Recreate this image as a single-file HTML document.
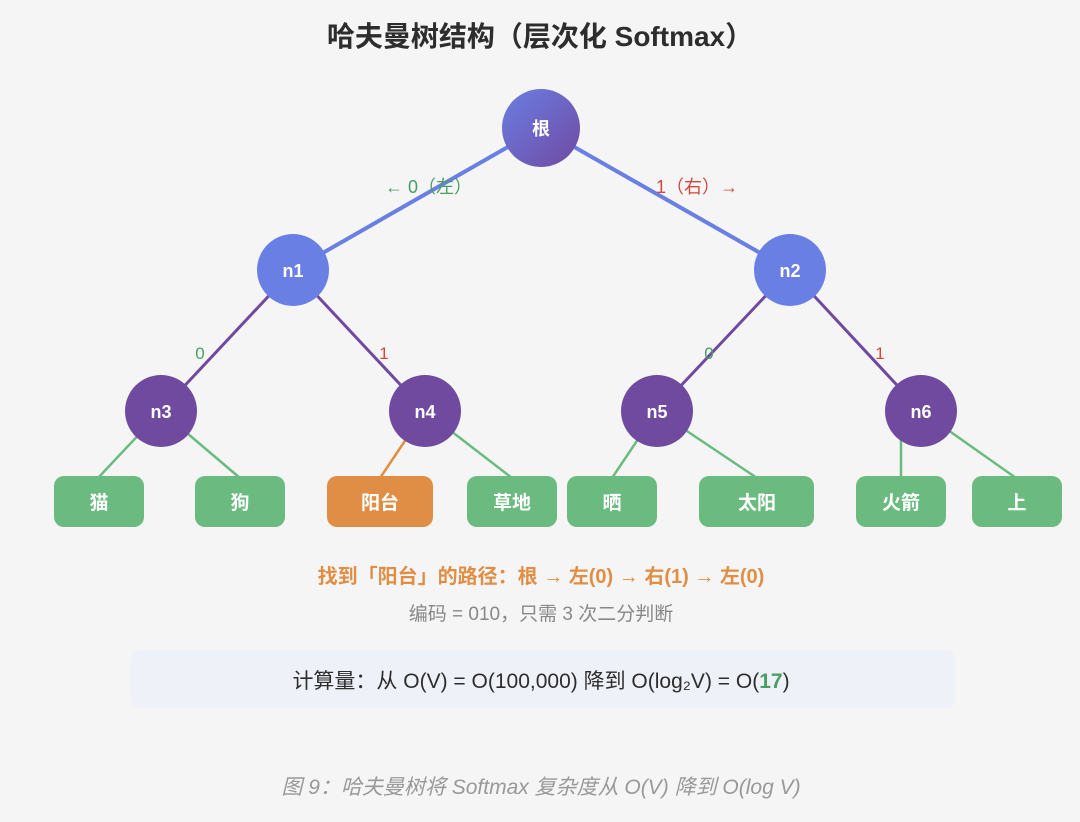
<!DOCTYPE html>
<html><head><meta charset="utf-8"><style>
html,body{margin:0;padding:0;background:#f5f5f5;}
svg{display:block;font-family:"Liberation Sans","Noto Sans CJK SC",sans-serif;}
</style></head><body>
<svg width="1080" height="822" viewBox="0 0 1080 822" xmlns="http://www.w3.org/2000/svg">
<defs>
<linearGradient id="rg" x1="0" y1="0" x2="1" y2="1">
<stop offset="0" stop-color="#6a7fe3"/><stop offset="1" stop-color="#7049a2"/>
</linearGradient>
</defs>
<rect width="1080" height="822" fill="#f5f5f5"/>
<text x="540" y="46" text-anchor="middle" font-size="28" font-weight="bold" fill="#2d2d2d">哈夫曼树结构（层次化 Softmax）</text>

<g stroke-width="4" stroke="#6a7fe3" stroke-linecap="round">
<line x1="541" y1="128" x2="293" y2="270"/>
<line x1="541" y1="128" x2="790" y2="270"/>
</g>
<g stroke-width="3" stroke="#6f4a9e">
<line x1="293" y1="270" x2="161" y2="411"/>
<line x1="293" y1="270" x2="425" y2="411"/>
<line x1="790" y1="270" x2="657" y2="411"/>
<line x1="790" y1="270" x2="921" y2="411"/>
</g>
<g stroke-width="2.5" stroke="#6bbb80">
<line x1="161" y1="411" x2="98" y2="478"/>
<line x1="161" y1="411" x2="240" y2="478"/>
<line x1="425" y1="411" x2="512" y2="478"/>
<line x1="657" y1="411" x2="612" y2="478"/>
<line x1="657" y1="411" x2="757" y2="478"/>
<line x1="901" y1="420" x2="901" y2="478"/>
<line x1="921" y1="411" x2="1016" y2="478"/>
</g>
<line x1="425" y1="411" x2="380" y2="478" stroke="#e08e45" stroke-width="2.5"/>

<g font-size="18">
<text x="385" y="193" fill="#4a9e63">← 0（左）</text>
<text x="656" y="193" fill="#d1483c">1（右）→</text>
</g>
<g font-size="17">
<text x="200" y="359" text-anchor="middle" fill="#4a9e63">0</text>
<text x="384" y="359" text-anchor="middle" fill="#d1483c">1</text>
<text x="709" y="359" text-anchor="middle" fill="#4a9e63">0</text>
<text x="880" y="359" text-anchor="middle" fill="#d1483c">1</text>
</g>

<circle cx="541" cy="128" r="39" fill="url(#rg)"/>
<circle cx="293" cy="270" r="36" fill="#6a7fe3"/>
<circle cx="790" cy="270" r="36" fill="#6a7fe3"/>
<g fill="#6f4a9e">
<circle cx="161" cy="411" r="36"/><circle cx="425" cy="411" r="36"/>
<circle cx="657" cy="411" r="36"/><circle cx="921" cy="411" r="36"/>
</g>
<g fill="#fff" font-size="18" font-weight="bold" text-anchor="middle">
<text x="541" y="135">根</text>
<text x="293" y="277">n1</text><text x="790" y="277">n2</text>
<text x="161" y="418">n3</text><text x="425" y="418">n4</text>
<text x="657" y="418">n5</text><text x="921" y="418">n6</text>
</g>

<g fill="#6bbb80">
<rect x="54" y="476" width="90" height="51" rx="10"/>
<rect x="195" y="476" width="90" height="51" rx="10"/>
<rect x="467" y="476" width="90" height="51" rx="10"/>
<rect x="567" y="476" width="90" height="51" rx="10"/>
<rect x="699" y="476" width="115" height="51" rx="10"/>
<rect x="856" y="476" width="90" height="51" rx="10"/>
<rect x="972" y="476" width="90" height="51" rx="10"/>
</g>
<rect x="327" y="476" width="106" height="51" rx="10" fill="#e08e45"/>
<g fill="#fff" font-size="19" font-weight="bold" text-anchor="middle">
<text x="99" y="509">猫</text><text x="240" y="509">狗</text>
<text x="380" y="509">阳台</text><text x="512" y="509">草地</text>
<text x="612" y="509">晒</text><text x="757" y="509">太阳</text>
<text x="901" y="509">火箭</text><text x="1017" y="509">上</text>
</g>

<text x="541" y="583" text-anchor="middle" font-size="20" font-weight="bold" fill="#e08e45">找到「阳台」的路径：根 → 左(0) → 右(1) → 左(0)</text>
<text x="541" y="620" text-anchor="middle" font-size="19" fill="#888">编码 = 010，只需 3 次二分判断</text>

<rect x="130" y="650" width="825" height="58" rx="8" fill="#eef1f8"/>
<text x="541" y="688" text-anchor="middle" font-size="21" fill="#2d2d2d">计算量：从 O(V) = O(100,000) 降到 O(log₂V) = O(<tspan fill="#4a9e63" font-weight="bold">17</tspan>)</text>

<text x="541" y="794" text-anchor="middle" font-size="21" font-style="italic" fill="#999">图 9：哈夫曼树将 Softmax 复杂度从 O(V) 降到 O(log V)</text>
</svg>
</body></html>
